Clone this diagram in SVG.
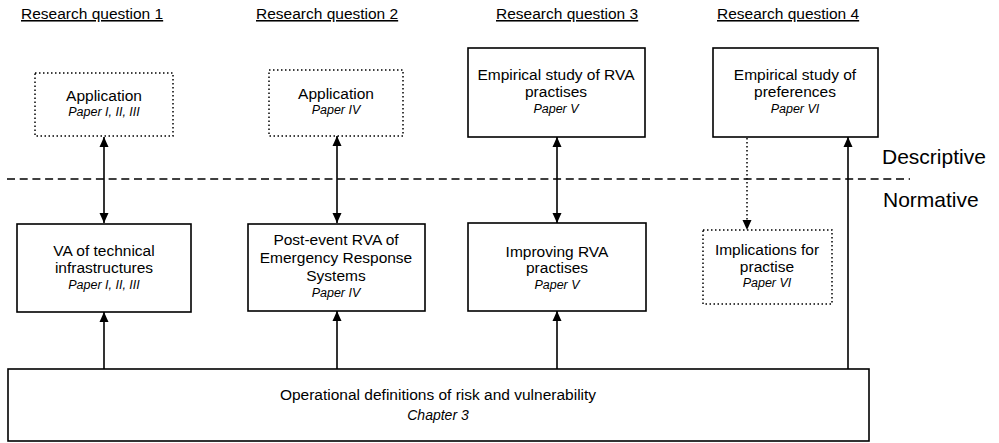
<svg xmlns="http://www.w3.org/2000/svg" width="999" height="443" viewBox="0 0 999 443">
<defs>
<marker id="ah" viewBox="0 0 10 10" refX="10" refY="5" markerWidth="10" markerHeight="10" markerUnits="userSpaceOnUse" orient="auto-start-reverse">
<path d="M0,0.5 L10,5 L0,9.5 Z" fill="#000"/>
</marker>
</defs>
<style>
text{font-family:"Liberation Sans",Arial,sans-serif;fill:#000;text-anchor:middle}
.t{font-size:15.5px}
.p{font-size:12.5px;font-style:italic}
.h{font-size:15.5px;text-decoration:underline;text-anchor:start}
.side{font-size:21px;text-anchor:start}
.box{fill:#fff;stroke:#000;stroke-width:1.6}
.dot{fill:#fff;stroke:#000;stroke-width:1.5;stroke-dasharray:1.5 2.5}
.ln{stroke:#000;stroke-width:1.6;fill:none}
.dl{stroke:#000;stroke-width:1.5;fill:none;stroke-dasharray:1.5 2.5}
</style>
<g id="headers">
<text class="h" x="21" y="19">Research question 1</text>
<text class="h" x="256" y="19">Research question 2</text>
<text class="h" x="496" y="19">Research question 3</text>
<text class="h" x="717" y="19">Research question 4</text>
</g>
<g id="divider">
<line x1="7" y1="179" x2="910" y2="179" stroke="#000" stroke-width="1.6" stroke-dasharray="8 4.7"/>
<text class="side" x="882" y="164">Descriptive</text>
<text class="side" x="883" y="207">Normative</text>
</g>
<g id="connectors">
<line class="ln" x1="104" y1="137" x2="104" y2="223" marker-start="url(#ah)" marker-end="url(#ah)"/>
<line class="ln" x1="337" y1="136" x2="337" y2="223" marker-start="url(#ah)" marker-end="url(#ah)"/>
<line class="ln" x1="557" y1="137" x2="557" y2="223" marker-start="url(#ah)" marker-end="url(#ah)"/>
<line class="dl" x1="747" y1="138" x2="747" y2="230" marker-end="url(#ah)"/>
<line class="ln" x1="848" y1="369" x2="848" y2="137" marker-end="url(#ah)"/>
<line class="ln" x1="104" y1="369" x2="104" y2="312" marker-end="url(#ah)"/>
<line class="ln" x1="337" y1="369" x2="337" y2="311" marker-end="url(#ah)"/>
<line class="ln" x1="557" y1="369" x2="557" y2="311" marker-end="url(#ah)"/>
</g>
<g id="app1">
<rect class="dot" x="35" y="73" width="138" height="63"/>
<text class="t" x="104" y="101">Application</text>
<text class="p" x="104" y="116">Paper I, II, III</text>
</g>
<g id="app2">
<rect class="dot" x="269" y="70" width="134" height="66"/>
<text class="t" x="336" y="99">Application</text>
<text class="p" x="336" y="114">Paper IV</text>
</g>
<g id="emp-rva">
<rect class="box" x="468" y="48" width="177" height="89"/>
<text class="t" x="556" y="80">Empirical study of RVA</text>
<text class="t" x="556" y="97">practises</text>
<text class="p" x="556" y="113">Paper V</text>
</g>
<g id="emp-pref">
<rect class="box" x="713" y="48" width="165" height="89"/>
<text class="t" x="795" y="80">Empirical study of</text>
<text class="t" x="795" y="97">preferences</text>
<text class="p" x="795" y="113">Paper VI</text>
</g>
<g id="va-tech">
<rect class="box" x="17" y="224" width="174" height="88"/>
<text class="t" x="104" y="256">VA of technical</text>
<text class="t" x="104" y="273">infrastructures</text>
<text class="p" x="104" y="289">Paper I, II, III</text>
</g>
<g id="post-event">
<rect class="box" x="248" y="224" width="177" height="87"/>
<text class="t" x="336" y="245">Post-event RVA of</text>
<text class="t" x="336" y="263">Emergency Response</text>
<text class="t" x="336" y="281">Systems</text>
<text class="p" x="336" y="297">Paper IV</text>
</g>
<g id="improving">
<rect class="box" x="468" y="223" width="178" height="88"/>
<text class="t" x="557" y="257">Improving RVA</text>
<text class="t" x="557" y="273">practises</text>
<text class="p" x="557" y="289">Paper V</text>
</g>
<g id="implications">
<rect class="dot" x="703" y="230" width="129" height="74"/>
<text class="t" x="767" y="255">Implications for</text>
<text class="t" x="767" y="272">practise</text>
<text class="p" x="767" y="287">Paper VI</text>
</g>
<g id="definitions">
<rect class="box" x="8" y="369" width="861" height="72"/>
<text class="t" x="438" y="400">Operational definitions of risk and vulnerability</text>
<text class="p" x="438" y="420" style="font-size:14px">Chapter 3</text>
</g>
</svg>
